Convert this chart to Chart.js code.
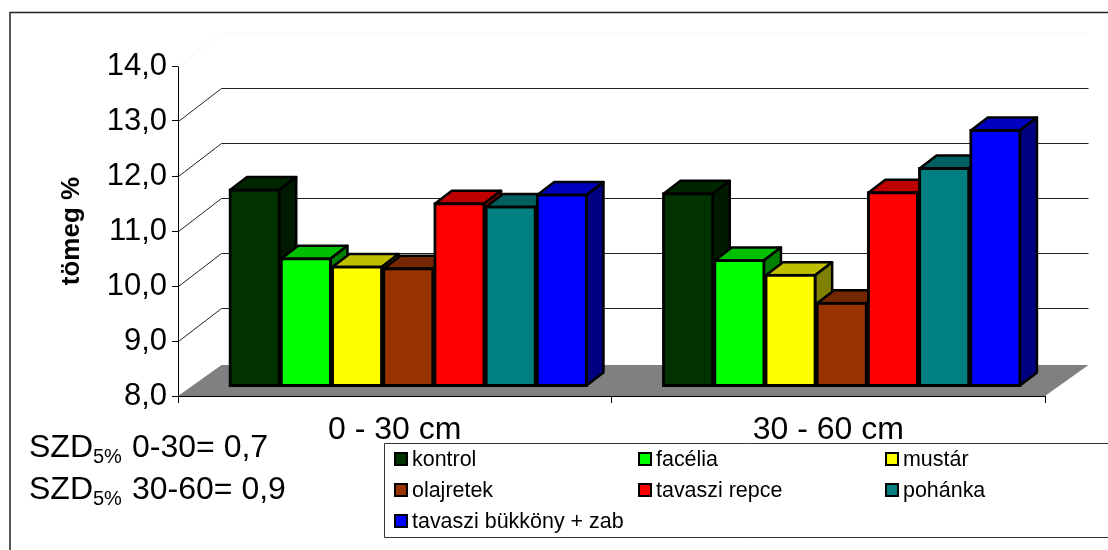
<!DOCTYPE html>
<html>
<head>
<meta charset="utf-8">
<style>html,body{margin:0;padding:0;background:#fff}canvas{display:block}</style>
<script src="https://cdn.jsdelivr.net/npm/chart.js@4"></script>
</head>
<body>
<canvas id="c" width="1108" height="550"></canvas>
<script>
const categories = ['0 - 30 cm', '30 - 60 cm'];
const seriesNames = ['kontrol', 'facélia', 'mustár', 'olajretek', 'tavaszi repce', 'pohánka', 'tavaszi bükköny + zab'];
const kontrol = [11.60, 11.53];
const facelia = [10.35, 10.32];
const mustar = [10.20, 10.05];
const olajretek = [10.17, 9.54];
const repce = [11.35, 11.55];
const pohanka = [11.29, 11.99];
const bukkony = [11.51, 12.68];
const seriesValues = [kontrol, facelia, mustar, olajretek, repce, pohanka, bukkony];
const frontColors = ['#003300', '#00ff00', '#ffff00', '#993300', '#ff0000', '#008080', '#0000ff'];
const topColors = ['#002600', '#00bf00', '#bfbf00', '#732600', '#bf0000', '#006060', '#0000bf'];
const sideColors = ['#001a00', '#008000', '#808000', '#4d1a00', '#800000', '#004040', '#000080'];
const notes = [['0-30= 0,7', 457], ['30-60= 0,9', 499]];
const yTitle = 'tömeg %';
const FONT = '"Liberation Sans", Arial, sans-serif';

const WALL = {x: 43.5, y: -33};
const FLOOR_BACK = -31;
const BAR = {x: 13.5, y: -9};
const DEPTH = {x: 17, y: -13};

function face(ctx, pts, fill) {
  ctx.beginPath();
  pts.forEach((p, i) => i ? ctx.lineTo(p[0], p[1]) : ctx.moveTo(p[0], p[1]));
  ctx.closePath();
  ctx.fillStyle = fill;
  ctx.fill();
  ctx.lineWidth = 2.5;
  ctx.lineJoin = 'round';
  ctx.strokeStyle = '#000';
  ctx.stroke();
}

const depthPlugin = {
  id: 'depth',
  beforeDatasetsDraw(chart) {
    const {ctx} = chart;
    const x = chart.scales.x, y = chart.scales.y;
    const l = x.left, r = x.right;
    ctx.save();
    for (const t of y.ticks) {
      const py = Math.round(y.getPixelForValue(t.value)) + 0.5;
      if (t.value === y.min) continue;
      ctx.strokeStyle = t.value === y.max ? '#f5f5f5' : '#222';
      ctx.lineWidth = 1;
      ctx.beginPath();
      ctx.moveTo(l + 0.5, py);
      ctx.lineTo(l + WALL.x, py + WALL.y);
      ctx.lineTo(r + WALL.x, py + WALL.y);
      ctx.stroke();
    }
    const by = y.getPixelForValue(y.min);
    ctx.fillStyle = '#808080';
    ctx.beginPath();
    ctx.moveTo(l, by);
    ctx.lineTo(l + WALL.x, by + FLOOR_BACK);
    ctx.lineTo(r + WALL.x, by + FLOOR_BACK);
    ctx.lineTo(r, by);
    ctx.closePath();
    ctx.fill();
    ctx.restore();

    ctx.save();
    ctx.translate(BAR.x, BAR.y);
    categories.forEach((_, ci) => {
      seriesValues.forEach((__, si) => {
        const el = chart.getDatasetMeta(si).data[ci];
        const x0 = el.x - el.width / 2 + 1, x1 = el.x + el.width / 2 - 1;
        const y0 = el.y + 1, yb = el.base - 1;
        face(ctx, [[x0, y0], [x1, y0], [x1 + DEPTH.x, y0 + DEPTH.y], [x0 + DEPTH.x, y0 + DEPTH.y]], topColors[si]);
        face(ctx, [[x1, y0], [x1 + DEPTH.x, y0 + DEPTH.y], [x1 + DEPTH.x, yb + DEPTH.y], [x1, yb]], sideColors[si]);
      });
    });
    ctx.restore();
    ctx.save();
    ctx.translate(BAR.x, BAR.y);
  },
  afterDatasetsDraw(chart) {
    chart.ctx.restore();
  },
  afterDraw(chart) {
    const {ctx} = chart;
    ctx.save();
    // outer frame
    ctx.strokeStyle = '#222';
    ctx.lineWidth = 1.5;
    ctx.beginPath();
    ctx.moveTo(10, 550);
    ctx.lineTo(10, 12.5);
    ctx.lineTo(1108, 12.5);
    ctx.stroke();
    // notes
    ctx.fillStyle = '#000';
    ctx.textBaseline = 'alphabetic';
    notes.forEach(([text, py]) => {
      ctx.font = '32px ' + FONT;
      ctx.fillText('SZD', 29, py);
      ctx.font = '20px ' + FONT;
      ctx.fillText('5%', 93, py + 6);
      ctx.font = '32px ' + FONT;
      ctx.fillText(text, 132, py);
    });
    // legend
    ctx.strokeStyle = '#333';
    ctx.lineWidth = 1;
    ctx.fillStyle = '#fff';
    ctx.fillRect(384, 443, 724, 94);
    ctx.beginPath();
    ctx.moveTo(1108, 443.5);
    ctx.lineTo(384.5, 443.5);
    ctx.lineTo(384.5, 537.5);
    ctx.lineTo(1108, 537.5);
    ctx.stroke();
    const cols = [394, 638, 885];
    const rows = [459, 490, 521];
    seriesNames.forEach((name, i) => {
      const sx = cols[i % 3], sy = rows[Math.floor(i / 3)];
      ctx.fillStyle = '#000';
      ctx.fillRect(sx, sy - 7, 14, 14);
      ctx.fillStyle = frontColors[i];
      ctx.fillRect(sx + 2, sy - 5, 10, 10);
      ctx.fillStyle = '#000';
      ctx.font = '22px ' + FONT;
      ctx.textBaseline = 'middle';
      ctx.save();
      ctx.translate(sx + 18, sy + 1);
      ctx.scale(0.975, 1);
      ctx.fillText(name, 0, 0);
      ctx.restore();
    });
    ctx.restore();
  }
};

new Chart(document.getElementById('c'), {
  type: 'bar',
  data: {
    labels: categories,
    datasets: seriesNames.map((name, i) => ({
      label: name,
      data: seriesValues[i],
      base: 8,
      backgroundColor: frontColors[i],
      borderColor: '#000',
      borderWidth: 3,
      borderSkipped: false,
      inflateAmount: 0.5,
      categoryPercentage: 358 / 433,
      barPercentage: 1,
      clip: false
    }))
  },
  options: {
    responsive: false,
    animation: false,
    devicePixelRatio: 1,
    layout: {padding: {top: 66, right: 63, left: 0, bottom: 0}},
    plugins: {legend: {display: false}, title: {display: false}, tooltip: {enabled: false}},
    scales: {
      x: {
        afterFit(s) { s.height = 154; },
        grid: {drawOnChartArea: false, tickLength: 7, color: '#000', offset: true},
        border: {color: '#000'},
        ticks: {color: '#000', font: {family: FONT, size: 32}, padding: 8, maxRotation: 0}
      },
      y: {
        min: 8,
        max: 14,
        afterFit(s) { s.width = 178; },
        grid: {drawOnChartArea: false, tickLength: 6, color: '#000'},
        border: {color: '#000'},
        ticks: {
          stepSize: 1,
          color: '#000',
          padding: 5,
          font: {family: FONT, size: 31},
          callback: v => v.toFixed(1).replace('.', ',')
        },
        title: {
          display: true,
          text: yTitle,
          color: '#000',
          font: {family: FONT, size: 26, weight: 'bold'},
          padding: {top: 56, bottom: 0}
        }
      }
    }
  },
  plugins: [depthPlugin]
});
</script>
</body>
</html>
